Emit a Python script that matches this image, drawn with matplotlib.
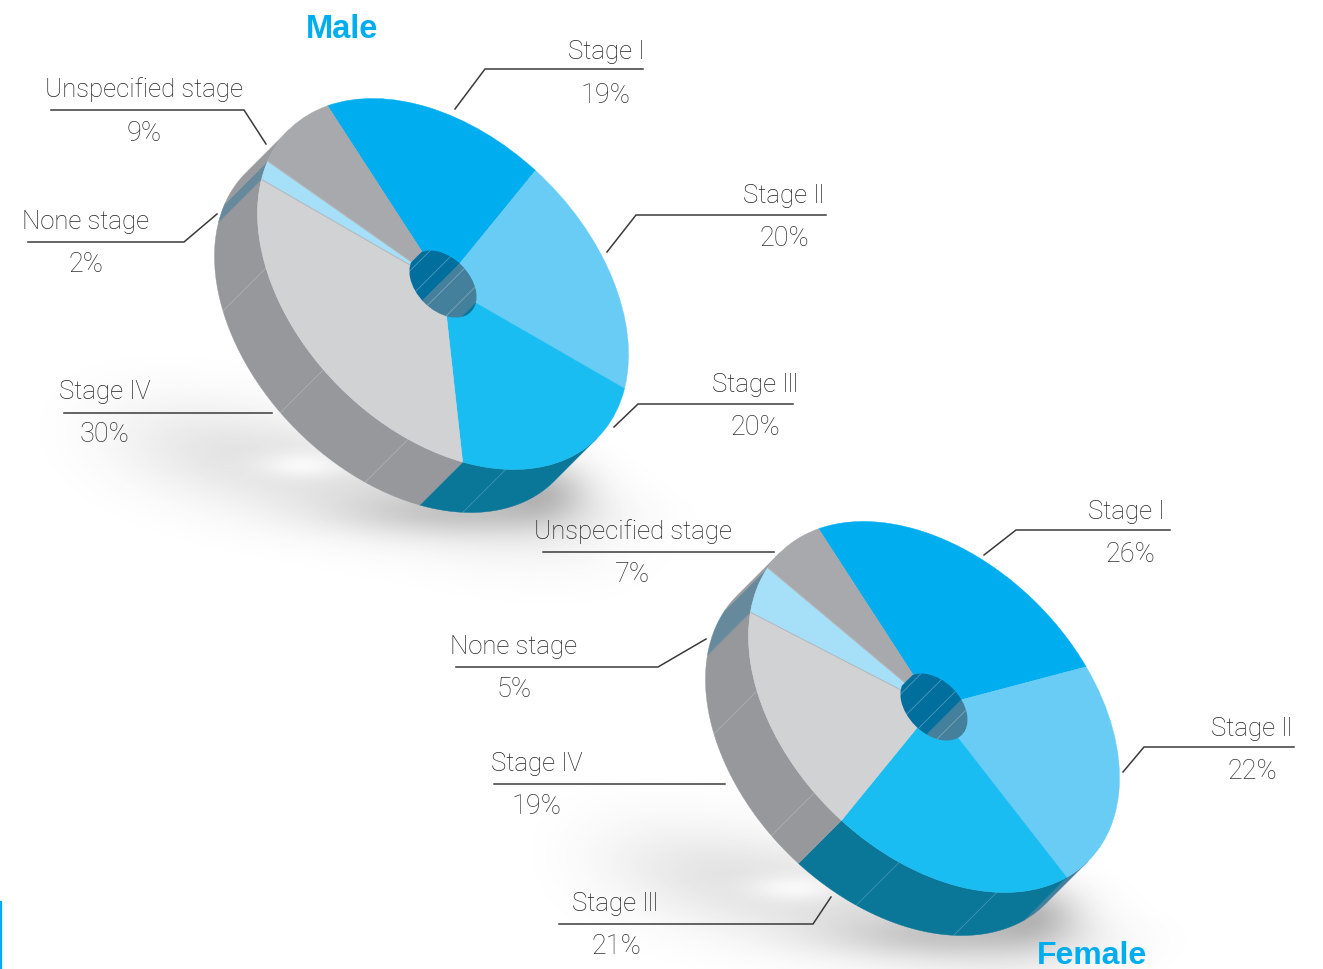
import numpy as np
import matplotlib
matplotlib.use('Agg')
import matplotlib.pyplot as plt
from matplotlib.patches import Wedge, Circle, Polygon
from matplotlib.transforms import Affine2D

stages = ['Stage Ⅰ', 'Stage Ⅱ', 'Stage Ⅲ', 'Stage Ⅳ', 'None stage', 'Unspecified stage']
male_values = [19, 20, 20, 30, 2, 9]
female_values = [26, 22, 21, 19, 5, 7]

top_colors = ['#00adef', '#69ccf5', '#19bdf1', '#d0d2d4', '#a6dff8', '#a7a9ac']
wall_colors = ['#006f9e', '#44809c', '#0a7799', '#97989c', '#66899c', '#9a9b9f']
blue = '#00adef'

# pixel layout of the labels: text centre, value centre, leader line
male_text_xy = [(606, 50), (784, 194), (755, 383), (105, 390), (86, 220), (144, 88)]
male_value_xy = [(606, 93), (784, 236), (755, 425), (105, 432), (86, 262), (144, 131)]
male_leaders = [
    [(643, 69), (485, 69), (455, 109)],
    [(826, 215), (636, 215), (607, 252)],
    [(793, 404), (638, 404), (614, 427)],
    [(64, 413), (272, 413)],
    [(28, 242), (184, 242), (217, 214)],
    [(51, 110), (244, 110), (266, 144)],
]
female_text_xy = [(1126, 510), (1252, 727), (616, 902), (537, 762), (514, 645), (633, 530)]
female_value_xy = [(1130, 552), (1252, 769), (616, 944), (537, 804), (514, 687), (633, 572)]
female_leaders = [
    [(1170, 530), (1016, 530), (984, 555)],
    [(1294, 747), (1144, 747), (1123, 772)],
    [(559, 924), (813, 924), (831, 897)],
    [(494, 784), (725, 784)],
    [(456, 667), (658, 667), (706, 639)],
    [(543, 552), (774, 552)],
]

# the disc is a circle seen at an angle: long axis runs down to the right
AXIS_A = 218 / np.sqrt(2)
AXIS_B = 146 / np.sqrt(2)
START_ANGLE = 162.3
HOLE = 0.181
DEPTH = (-43, 43)
WALL_SEAMS = [-128.8, -96.3, -67, -36.4]
HOLE_SEAMS = [146, 111, 84, 51]

fig = plt.figure(figsize=(13.23, 9.7), dpi=100)
ax = fig.add_axes([0, 0, 1, 1])
ax.axis('off')


def rim(cx, cy, t, r=1.0):
    t = np.radians(t)
    u, v = r * np.cos(t), r * np.sin(t)
    return cx + AXIS_A * u + AXIS_B * v, cy + AXIS_A * u - AXIS_B * v


def side_wall(cx, cy, t1, t2, color, r=1.0, clip=None, z=3):
    ts = np.linspace(t1, t2, 40)
    x, y = rim(cx, cy, ts, r)
    pts = np.r_[np.c_[x, y], np.c_[x + DEPTH[0], y + DEPTH[1]][::-1]]
    p = Polygon(pts, closed=True, fc=color, ec=color, lw=0.3, zorder=z)
    ax.add_patch(p)
    if clip is not None:
        p.set_clip_path(clip)


def seam(cx, cy, t, alpha, r=1.0, clip=None, z=4):
    x, y = rim(cx, cy, t, r)
    line, = ax.plot([x, x + DEPTH[0]], [y, y + DEPTH[1]], color='white', alpha=alpha,
                    lw=0.6, zorder=z)
    if clip is not None:
        line.set_clip_path(clip)


def shadow(cx, cy):
    # soft blurred shadow on the ground, placed relative to the disc centre
    xx, yy = np.meshgrid(np.arange(cx - 440, cx + 260), np.arange(cy + 60, cy + 330))
    dx, dy = xx - (cx - 85), yy - (cy + 196)
    a = np.radians(11)
    p = dx * np.cos(a) + dy * np.sin(a)
    q = -dx * np.sin(a) + dy * np.cos(a)
    alpha = 0.15 * np.exp(-(p / 235) ** 4 - (q / 50) ** 2)
    dx2, dy2 = xx - (cx + 10), yy - (cy + 230)
    alpha += 0.16 * np.exp(-(dx2 / 120) ** 2 - (dy2 / 22) ** 2)
    dx3, dy3 = xx - (cx + 100), yy - (cy + 205)
    alpha += 0.25 * np.exp(-(dx3 / 45) ** 2 - (dy3 / 28) ** 2)
    dx4, dy4 = xx - (cx - 140), yy - (cy + 181)
    alpha *= 1 - 0.8 * np.exp(-(dx4 / 48) ** 2 - (dy4 / 14) ** 2)
    rgba = np.zeros(alpha.shape + (4,))
    rgba[..., :3] = 0.2
    rgba[..., 3] = np.clip(alpha, 0, 1)
    ax.imshow(rgba, extent=(xx.min(), xx.max(), yy.max(), yy.min()),
              aspect='auto', zorder=1, interpolation='bilinear')


def draw_disc(cx, cy, values):
    tr = (Affine2D.from_values(AXIS_A, AXIS_A, AXIS_B, -AXIS_B, cx, cy) + ax.transData)
    shadow(cx, cy)
    edges = START_ANGLE - np.r_[0, np.cumsum(values)] * 3.6

    # outer wall, only the part below the long axis shows
    for i in range(len(values)):
        t1, t2 = edges[i + 1], edges[i]
        for shift in (0, 360):
            lo, hi = max(t1 + shift, -180), min(t2 + shift, 0)
            if lo < hi:
                side_wall(cx, cy, lo, hi, wall_colors[i])
    for t in WALL_SEAMS:
        seam(cx, cy, t, 0.22)

    # top face
    for i in range(len(values)):
        ax.add_patch(Wedge((0, 0), 1, edges[i + 1], edges[i], transform=tr, zorder=5,
                           fc=top_colors[i], ec=top_colors[i], lw=0.3))
    # thin outline of the pale slice
    for i in (3, 4):
        x, y = rim(cx, cy, edges[i + 1])
        ax.plot([cx, x], [cy, y], color='#b4b6b9', lw=0.7, zorder=6)

    # centre hole, the far inner wall shows through it
    hole_clip = Circle((0, 0), HOLE, transform=tr)
    for i in range(len(values)):
        t1, t2 = edges[i + 1], edges[i]
        lo, hi = max(t1, 0), min(t2, 180)
        if lo < hi:
            side_wall(cx, cy, lo, hi, wall_colors[i] if i != 5 else '#7f8f9a', r=HOLE,
                      clip=hole_clip, z=7)
    for t in HOLE_SEAMS:
        seam(cx, cy, t, 0.3, r=HOLE, clip=hole_clip, z=8)


def draw_labels(values, text_xy, value_xy, leaders):
    for name, val, t_xy, v_xy, leader in zip(stages, values, text_xy, value_xy, leaders):
        ax.text(t_xy[0], t_xy[1] + 1, name, ha='center', va='center', fontsize=18.5,
                family=['Roboto', 'DejaVu Sans'], weight='light', color='#222222', zorder=10)
        ax.text(v_xy[0], v_xy[1] + 1.5, f'{val}%', ha='center', va='center', fontsize=19.5,
                family=['Roboto', 'DejaVu Sans'], weight='light', color='#333333', zorder=10)
        xs, ys = zip(*leader)
        ax.plot(xs, ys, color='#3a3a3a', lw=1.1, zorder=10, solid_joinstyle='miter')


draw_disc(443, 284, male_values)
draw_disc(934, 707, female_values)
draw_labels(male_values, male_text_xy, male_value_xy, male_leaders)
draw_labels(female_values, female_text_xy, female_value_xy, female_leaders)

ax.text(342, 28, 'Male', ha='center', va='center', fontsize=23.5, weight='bold',
        family='Liberation Sans', color=blue)
ax.text(1092, 955.5, 'Female', ha='center', va='center', fontsize=23, weight='bold',
        family='Liberation Sans', color=blue)
ax.plot([1, 1], [902, 971], color=blue, lw=1.6, zorder=10)

ax.set_xlim(0, 1323)
ax.set_ylim(969, -1)
fig.savefig('out.png', dpi=100)
